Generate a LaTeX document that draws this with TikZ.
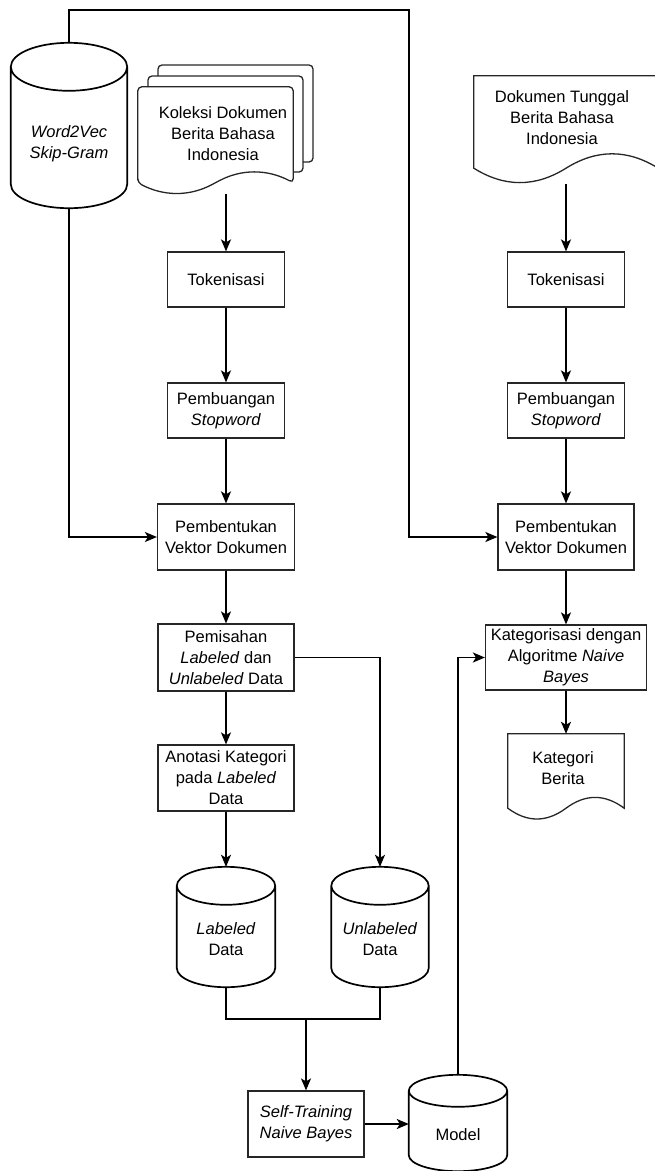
\documentclass[tikz,border=0pt]{standalone}
\usepackage{fontspec}
\setmainfont{Liberation Sans}
\usetikzlibrary{arrows.meta,calc}

% cylinder outline round a node (#1), end ellipse radius #2
\newcommand{\dbcyl}[2]{%
  \draw[dbline] let \p1=(#1.north west), \p2=(#1.south east) in
    (\x1,\y1-#2pt) arc[start angle=180,end angle=0,x radius={(\x2-\x1)/2},y radius=#2pt]
    -- (\x2,\y2+#2pt) arc[start angle=0,end angle=-180,x radius={(\x2-\x1)/2},y radius=#2pt] -- cycle
    (\x1,\y1-#2pt) arc[start angle=180,end angle=360,x radius={(\x2-\x1)/2},y radius=#2pt];}
% document sheet with wavy foot round a node (#2), wave depth #3
\newcommand{\docwave}[3][]{%
  \draw[boxline,#1] let \p1=(#2.north west), \p2=(#2.south east),
      \n1={(\x2-\x1)/6}, \n2={(\x1+\x2)/2} in
    (\x1,\y2+0.5*#3pt) -- (\x1,\y1) -- (\x2,\y1) -- (\x2,\y2+0.5*#3pt)
    .. controls (\x2-\n1,\y2+1.1*#3pt) and (\n2+\n1,\y2+1.1*#3pt) .. (\n2,\y2+0.5*#3pt)
    .. controls (\n2-\n1,\y2-0.1*#3pt) and (\x1+\n1,\y2-0.1*#3pt) .. (\x1,\y2+0.5*#3pt) -- cycle;}

\begin{document}
\begin{tikzpicture}[x=1pt,y=-1pt,
    font=\fontsize{16.5}{21}\selectfont,
    box/.style={draw=black!85,line width=1.2pt,align=center,inner sep=2pt},
    boxline/.style={draw=black!85,line width=1.3pt},
    dbline/.style={draw=black,line width=1.7pt},
    store/.style={inner sep=0pt},
    txt/.style={align=center,inner sep=0pt},
    arr/.style={line width=1.7pt,-{Stealth[length=12pt,width=10pt,inset=3pt]}},
    link/.style={line width=1.7pt}]
  \useasboundingbox (0,0) rectangle (654,1171);

  % Sources
  \node[store,minimum width=116pt,minimum height=165pt] (w2v) at (69,125.5) {};
  \dbcyl{w2v}{24}
  \node[txt] (w2vtxt) at ([yshift=-18pt]w2v.center) {\textit{Word2Vec}\\\textit{Skip-Gram}};
  \draw[boxline,rounded corners=4pt] (158,76) -- (158,65) -- (313,65) -- (313,162) -- (303,162);
  \draw[boxline,rounded corners=4pt] (148,87) -- (148,76) -- (303,76) -- (303,172) -- (293,172);
  \node[store,minimum width=155pt,minimum height=107pt] (koleksi) at (215.5,140.5) {};
  \docwave[rounded corners=4pt]{koleksi}{23}
  \node[txt] (koleksitxt) at (223,134) {Koleksi Dokumen\\Berita Bahasa\\Indonesia};
  \node[store,minimum width=184pt,minimum height=108pt] (tunggal) at (566,130) {};
  \docwave{tunggal}{32}
  \node[txt] (tunggaltxt) at (562,118) {Dokumen Tunggal\\Berita Bahasa\\Indonesia};

  % Training path
  \node[box,minimum width=117pt,minimum height=55pt] (tokA) at (226,279.5) {Tokenisasi};
  \node[box,minimum width=117pt,minimum height=55pt] (stopA) at (226,410.5) {Pembuangan\\\textit{Stopword}};
  \node[box,minimum width=137pt,minimum height=66pt] (vecA) at (226,537) {Pembentukan\\Vektor Dokumen};
  \node[box,minimum width=136pt,minimum height=67pt] (split) at (226,657.5) {Pemisahan\\\textit{Labeled} dan\\\textit{Unlabeled} Data};
  \node[box,minimum width=136pt,minimum height=66pt] (annot) at (226,778) {Anotasi Kategori\\pada \textit{Labeled}\\Data};
  \node[store,minimum width=98pt,minimum height=120pt] (lab) at (226,927) {};
  \dbcyl{lab}{19}
  \node[txt] (labtxt) at ([yshift=-12pt]lab.center) {\textit{Labeled}\\Data};
  \node[store,minimum width=97pt,minimum height=120pt] (unlab) at (380,927) {};
  \dbcyl{unlab}{19}
  \node[txt] (unlabtxt) at ([yshift=-12pt]unlab.center) {\textit{Unlabeled}\\Data};
  \node[box,minimum width=116pt,minimum height=66pt] (train) at (306,1124) {\textit{Self-Training}\\\textit{Naive Bayes}};
  \node[store,minimum width=98pt,minimum height=96pt] (model) at (458,1123) {};
  \dbcyl{model}{16}
  \node[txt] (modeltxt) at ([yshift=-12pt]model.center) {Model};

  % Test path
  \node[box,minimum width=117pt,minimum height=55pt] (tokB) at (566,279.5) {Tokenisasi};
  \node[box,minimum width=117pt,minimum height=55pt] (stopB) at (566,410.5) {Pembuangan\\\textit{Stopword}};
  \node[box,minimum width=136pt,minimum height=66pt] (vecB) at (566,537) {Pembentukan\\Vektor Dokumen};
  \node[box,minimum width=161pt,minimum height=65pt] (cat) at (566,657.5) {Kategorisasi dengan\\Algoritme \textit{Naive}\\\textit{Bayes}};
  \node[store,minimum width=116pt,minimum height=86pt] (hasil) at (566,777) {};
  \docwave{hasil}{24}
  \node[txt] (hasiltxt) at (563,768) {Kategori\\Berita};

  % Connectors
  \coordinate (over) at (409,10);
  \coordinate (join) at (306,1019);
  \draw[arr] (w2v.south) |- (vecA.west);
  \draw[arr] (w2v.north) |- (over) -- (over |- vecB.west) -- (vecB.west);
  \draw[arr] (tokA |- koleksi.south) -- (tokA.north);
  \draw[arr] (tokA.south) -- (stopA.north);
  \draw[arr] (stopA.south) -- (vecA.north);
  \draw[arr] (vecA.south) -- (split.north);
  \draw[arr] (split.south) -- (annot.north);
  \draw[arr] (annot.south) -- (lab.north);
  \draw[arr] (split.east) -| (unlab.north);
  \draw[link] (lab.south) |- (join) -| (unlab.south);
  \draw[arr] (join) -- (train.north);
  \draw[arr] (train.east) -- (train.east -| model.west);
  \draw[arr] (model.north) |- (cat.west);
  \draw[arr] (tunggal.south) -- (tokB.north);
  \draw[arr] (tokB.south) -- (stopB.north);
  \draw[arr] (stopB.south) -- (vecB.north);
  \draw[arr] (vecB.south) -- (cat.north);
  \draw[arr] (cat.south) -- (hasil.north);
\end{tikzpicture}
\end{document}
